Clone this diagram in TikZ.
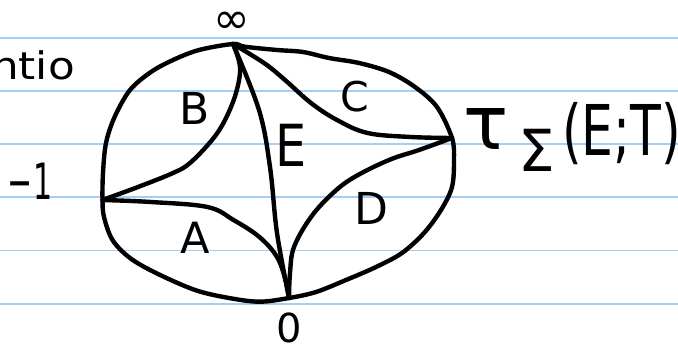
\documentclass[tikz,border=0pt]{standalone}
\usepackage{fontspec}
\setmainfont{DejaVu Sans}
\definecolor{ruleblue}{RGB}{165,205,245}
\tikzset{
  ruled/.style={draw=ruleblue,line width=1.8pt},
  pen/.style={line width=4.4pt,line cap=round,line join=round},
  lab/.style={inner sep=0pt,anchor=base},
}
\newcommand{\fs}[1]{\fontsize{#1}{#1}\selectfont}
\begin{document}
\begin{tikzpicture}[x=1pt,y=-1pt]
\useasboundingbox (0,0) rectangle (678,350);
\fill[white] (0,0) rectangle (678,350);
\foreach \yy in {37.7,90.9,144.1,197.3,250.5,303.7} \draw[ruled] (0,\yy) -- (678,\yy);
% vertices
\coordinate (inf) at (233,44);
\coordinate (tau) at (452,138);
\coordinate (neg) at (102.5,200);
\coordinate (zero) at (289,298);
% outer loop
\draw[pen] plot[smooth cycle,tension=0.55] coordinates {(inf) (244.6,46.7) (277,50) (303,52) (329,58) (359,63) (389,72) (415,87) (437,107) (tau) (454,160) (452,187) (441,210) (424,233) (402,253) (376,267) (346,280) (316,292) (zero) (259.6,301.7) (229,298) (195,290) (156,273) (130,258) (112.5,240) (104,217) (neg) (103,173) (106,143) (114.6,117) (130,90) (151,72) (173,60) (199,50)};
% inner arcs
\draw[pen] plot[smooth,tension=0.6] coordinates {(inf) (240,67) (236,93) (225,120) (212,140) (190,163) (173,173) (138,187) (neg)};
\draw[pen] plot[smooth,tension=0.6] coordinates {(neg) (151,202) (207.5,207) (233.5,220) (259.4,237) (277,257) (285.5,280) (zero)};
\draw[pen] plot[smooth,tension=0.6] coordinates {(inf) (259,110) (270,167) (277,233) (zero)};
\draw[pen] plot[smooth,tension=0.6] coordinates {(inf) (264,63) (285,80) (311,103) (337,120) (367.5,133) (411,137) (tau)};
\draw[pen] plot[smooth,tension=0.6] coordinates {(tau) (419,150) (389,160) (354.5,177) (333,193) (311,217) (294,247) (290,273) (zero)};
% region labels
\node[lab,font=\fs{44}] (lB) at (195,125) {B};
\node[lab,font=\fs{41}] (lC) at (355,112) {C};
\node[lab,font=\fs{58},xscale=0.85] (lE) at (291,167) {E};
\node[lab,font=\fs{44}] (lD) at (371,225) {D};
\node[lab,font=\fs{43}] (lA) at (195,253) {A};
% vertex labels
\node[inner sep=0pt,font=\fs{44}] (linf) at (232,23) {∞};
\node[lab,font=\fs{40}] (lzero) at (289,342) {0};
\node[lab,font=\fs{50},xscale=0.6] (lneg) at (30,200) {−1};
\node[inner sep=0pt,anchor=base east,font=\fs{38},xscale=1.15] (lratio) at (75,80) {ntio};
% tau label
\node[lab,font=\fs{75}] (ltau) at (486,150) {τ};
\node[lab,font=\fs{58}] (lsig) at (537,172) {Σ};
\node[inner sep=0pt,anchor=base west,font=\fs{70},xscale=0.72] (larg) at (562,156) {(E;T)};
\end{tikzpicture}
\end{document}
